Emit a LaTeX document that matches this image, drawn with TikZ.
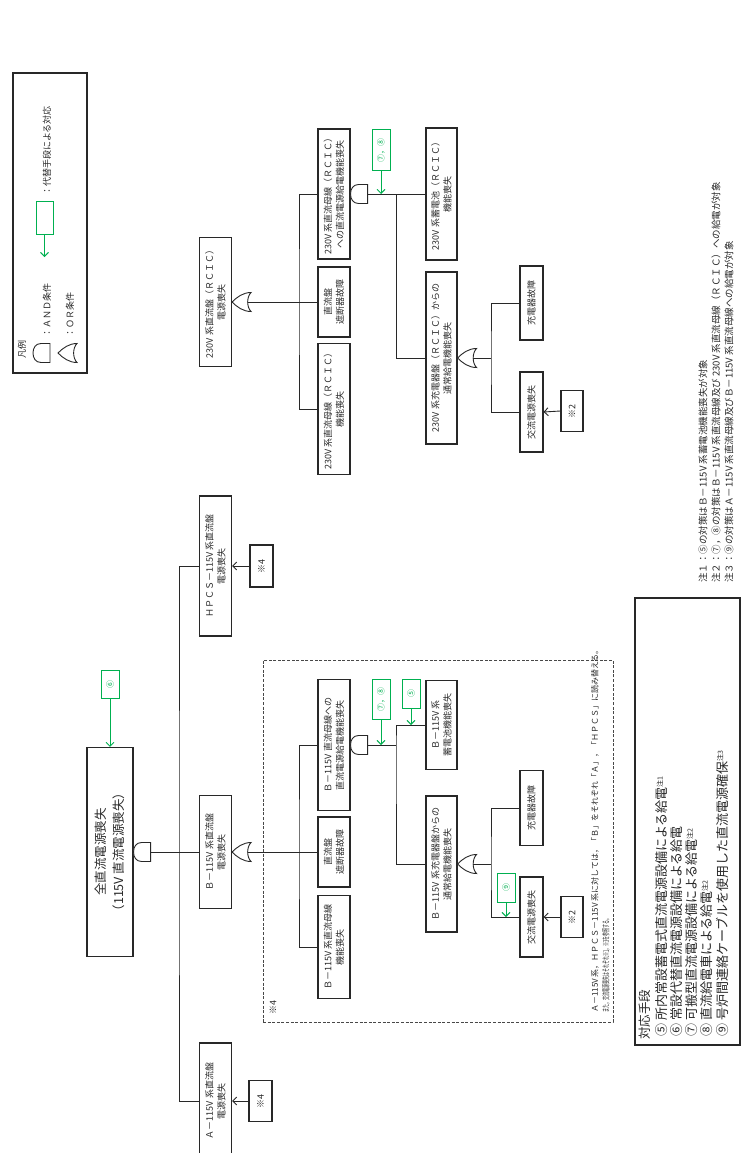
\documentclass[tikz,border=0pt]{standalone}
\usepackage{fontspec}
\setmainfont{Noto Sans CJK JP}
\usetikzlibrary{arrows.meta}
\definecolor{grn}{RGB}{0,176,80}
\definecolor{ink}{RGB}{40,40,40}
\newcommand{\fs}[2]{\fontsize{#1}{#2}\selectfont}
\newcommand{\chu}[1]{\raisebox{0.6ex}{\fs{7}{7}注#1}}
\begin{document}
\begin{tikzpicture}[x=1pt,y=-1pt,
  ev/.style 2 args={draw=ink, line width=1.1pt, rotate=90, inner sep=0pt, align=center,
    font=\fs{9}{12}, text=ink, minimum width=#1pt, minimum height=#2pt},
  gbox/.style 2 args={draw=grn, line width=1pt, rotate=90, inner sep=0pt, text=grn,
    font=\fs{8}{10}, minimum width=#1pt, minimum height=#2pt},
  ln/.style={draw=ink, line width=0.9pt},
  garrow/.style={draw=grn, line width=0.9pt, -{Straight Barb[length=4pt,width=8pt]}},
  karrow/.style={ln, -{Straight Barb[length=4pt,width=8pt]}},
  gate/.style={draw=ink, line width=0.9pt, fill=white},
  txt/.style={rotate=90, inner sep=0pt, text=ink, font=\fs{9}{11}},
  andg/.pic={\draw[gate] (17,-9.5) -- (8,-9.5) .. controls (2.5,-9.5) and (0,-5) .. (0,0)
      .. controls (0,5) and (2.5,9.5) .. (8,9.5) -- (17,9.5) -- cycle;
    \coordinate (-out) at (17,0);},
  org/.pic={\draw[gate] (0,0) .. controls (5,-5) and (11,-9.5) .. (19,-9.5)
      .. controls (14.5,-5) and (14.5,5) .. (19,9.5)
      .. controls (11,9.5) and (5,5) .. (0,0) -- cycle;
    \coordinate (-out) at (15.6,0);}
]
\useasboundingbox (0,0) rectangle (747,1153);

% ---------- legend ----------
\node[draw=ink, line width=1.1pt, minimum width=74pt, minimum height=300pt, inner sep=0pt] (leg) at (50,223) {};
\node[txt, anchor=west] (legT) at (22,359) {凡例};
\pic (legAnd) at (33,353) {andg};
\pic (legOr) at (58,353) {org};
\node[txt, anchor=west] (legAT) at (47,338) {：ＡＮＤ条件};
\node[txt, anchor=west] (legOT) at (70,338) {：ＯＲ条件};
\node[gbox={33}{17}] (legG) at (44.5,217.5) {};
\coordinate (legGend) at (44.5,257);
\draw[garrow] (legG.west) -- (legGend);
\node[txt, anchor=west] (legGT) at (47,196) {：代替手段による対応};

% ---------- main tree ----------
\node[ev={209}{46}, font=\fs{12.5}{18}] (top) at (110,852) {全直流電源喪失\\（115V 直流電源喪失）};
\node[gbox={28}{18}] (g1) at (110,684) {⑥};
\draw[garrow] (g1.west) -- (top.east);
\pic (gT) at (top.south) {andg};

\node[ev={140}{32}] (hpcs) at (215.5,566) {ＨＰＣＳ－115V 系直流盤\\電源喪失};
\node[ev={113}{32}] (b115) at (215.5,852) {Ｂ－115V 系直流盤\\電源喪失};
\node[ev={116}{32}] (a115) at (215.5,1101) {Ａ－115V 系直流盤\\電源喪失};
\coordinate (bus1) at (179,852);
\draw[ln] (gT-out) -- (b115.north);
\draw[ln] (hpcs.north) -| (bus1) |- (a115.north);

\node[ev={42}{23}] (s4a) at (261.5,566) {※4};
\draw[karrow] (s4a.north) -- (hpcs.south);
\node[ev={41}{23}] (s4c) at (260.5,1101) {※4};
\draw[karrow] (s4c.north) -- (a115.south);

% dashed group
\node[draw=ink!85, dash pattern=on 3pt off 1.6pt, line width=1pt, minimum width=350pt, minimum height=362pt, inner sep=0pt] (dbox) at (438,841) {};
\node[txt, anchor=west] (dlab) at (273,1015) {※4};

\pic (gB) at (b115.south) {org};
\node[ev={131}{32}] (b1) at (334,745) {Ｂ－115V 直流母線への\\直流電源給電機能喪失};
\node[ev={70}{32}] (b2) at (334,852) {直流盤\\遮断器故障};
\node[ev={103}{32}] (b3) at (334,947) {Ｂ－115V 系直流母線\\機能喪失};
\coordinate (bus2) at (299,852);
\draw[ln] (gB-out) -- (b2.north);
\draw[ln] (b1.north) -| (bus2) |- (b3.north);

\pic (gb1) at (b1.south) {andg};
\node[ev={89}{31}] (b4) at (441.5,725) {Ｂ－115V 系\\蓄電池機能喪失};
\node[ev={136}{31}] (b5) at (441.5,864) {Ｂ－115V 系充電器盤からの\\通常給電機能喪失};
\coordinate (bus3) at (396,745);
\draw[ln] (gb1-out) -- (bus3);
\draw[ln] (b4.north) -| (bus3) |- (b5.north);
\node[gbox={40}{18}] (g2) at (381,699) {⑦，⑧};
\draw[garrow] (g2.west) -- (g2.west |- bus3);
\node[gbox={29}{18}] (g3) at (411,693.5) {⑤};
\draw[garrow] (g3.west) -- (g3.west |- b4.north);

\pic (gb5) at (b5.south) {org};
\node[ev={75}{23}] (b6) at (531.5,808) {充電器故障};
\node[ev={80}{23}] (b7) at (531.5,917) {交流電源喪失};
\coordinate (bus4) at (491,864);
\draw[ln] (gb5-out) -- (bus4);
\draw[ln] (b6.north) -| (bus4) |- (b7.north);
\node[gbox={29}{18}] (g4) at (506,887.5) {⑨};
\draw[garrow] (g4.west) -- (g4.west |- b7.north);
\node[ev={41}{22}] (b8) at (572,917) {※2};
\draw[karrow] (b8.north) -- (b7.south);

\node[txt, anchor=west, font=\fs{8}{9}] (dn1) at (595,1013) {Ａ－115V 系，ＨＰＣＳ－115V 系に対しては，「Ｂ」をそれぞれ「Ａ」，「ＨＰＣＳ」に読み替える。};
\node[txt, anchor=west, font=\fs{8}{9}] (dn2) at (606,1013) {\scalebox{0.5}[1]{また，交流電源喪失はそれぞれ※1，※3を参照する。}};

% ---------- RCIC tree ----------
\node[ev={129}{32}] (r0) at (215.5,302) {230V 系直流盤（ＲＣＩＣ）\\電源喪失};
\pic (gr0) at (r0.south) {org};
\node[ev={130}{32}] (r1) at (334,194) {230V 系直流母線（ＲＣＩＣ）\\への直流電源給電機能喪失};
\node[ev={70}{32}] (r2) at (334,302) {直流盤\\遮断器故障};
\node[ev={131}{32}] (r3) at (334,409) {230V 系直流母線（ＲＣＩＣ）\\機能喪失};
\coordinate (bus5) at (299,302);
\draw[ln] (gr0-out) -- (r2.north);
\draw[ln] (r1.north) -| (bus5) |- (r3.north);

\pic (gr1) at (r1.south) {andg};
\node[ev={132}{31}] (r4) at (441.5,194) {230V 系蓄電池（ＲＣＩＣ）\\機能喪失};
\node[ev={172}{31}] (r5) at (441.5,358) {230V 系充電器盤（ＲＣＩＣ）からの\\通常給電機能喪失};
\coordinate (bus6) at (396,194);
\draw[ln] (gr1-out) -- (r4.north);
\draw[ln] (bus6) |- (r5.north);
\node[gbox={40}{18}] (g5) at (381,150) {⑦，⑧};
\draw[garrow] (g5.west) -- (g5.west |- bus6);

\pic (gr5) at (r5.south) {org};
\node[ev={74}{23}] (r6) at (531.5,303) {充電器故障};
\node[ev={80}{23}] (r7) at (531.5,412) {交流電源喪失};
\coordinate (bus7) at (491,358);
\draw[ln] (gr5-out) -- (bus7);
\draw[ln] (r6.north) -| (bus7) |- (r7.north);
\node[ev={41}{22}] (r8) at (572,411) {※2};
\draw[karrow] (r8.north) -- (r7.south);

% ---------- countermeasures ----------
\node[draw=ink, line width=1.1pt, minimum width=105pt, minimum height=447pt, inner sep=0pt] (cm) at (687.5,821.5) {};
\node[txt, anchor=west, font=\fs{12.5}{14}] (cm0) at (645,1040) {対応手段};
\node[txt, anchor=west, font=\fs{13}{14}] (cm5) at (662,1037) {⑤ 所内常設蓄電式直流電源設備による給電\chu{1}};
\node[txt, anchor=west, font=\fs{13}{14}] (cm6) at (677,1037) {⑥ 常設代替直流電源設備による給電};
\node[txt, anchor=west, font=\fs{13}{14}] (cm7) at (692,1037) {⑦ 可搬型直流電源設備による給電\chu{2}};
\node[txt, anchor=west, font=\fs{13}{14}] (cm8) at (707,1037) {⑧ 直流給電車による給電\chu{2}};
\node[txt, anchor=west, font=\fs{13}{14}] (cm9) at (722,1037) {⑨ 号炉間連絡ケーブルを使用した直流電源確保\chu{3}};

% ---------- notes ----------
\node[txt, anchor=west, font=\fs{9.5}{11}] (n1) at (703,583) {注１：⑤の対策はＢ－115V 系蓄電池機能喪失が対象};
\node[txt, anchor=west, font=\fs{9.5}{11}] (n2) at (716,583) {注２：⑦，⑧の対策はＢ－115V 系直流母線及び 230V 系直流母線（ＲＣＩＣ）への給電が対象};
\node[txt, anchor=west, font=\fs{9.5}{11}] (n3) at (729,583) {注３：⑨の対策はＡ－115V 系直流母線及びＢ－115V 系直流母線への給電が対象};
\end{tikzpicture}
\end{document}
